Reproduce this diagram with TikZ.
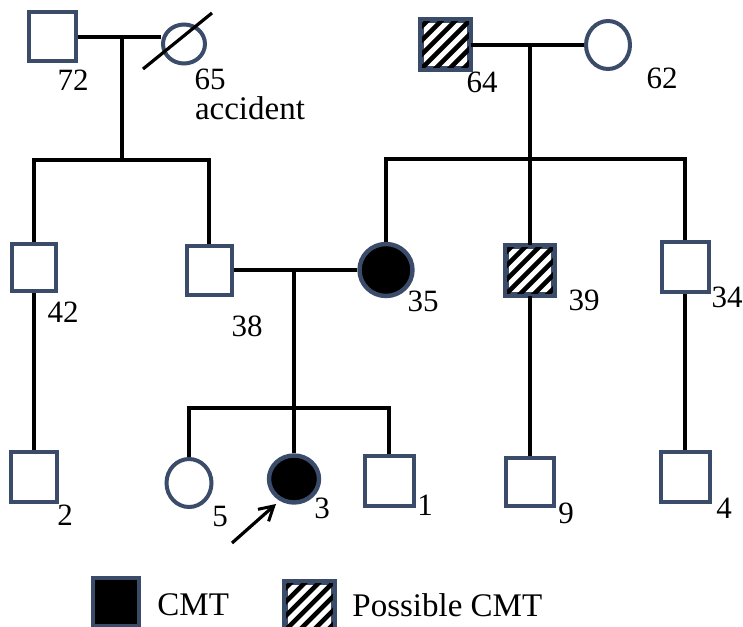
\documentclass[tikz,border=0pt]{standalone}
\usepackage{fontspec}
\setmainfont{Liberation Serif}
\usetikzlibrary{shapes.geometric,arrows.meta}
\definecolor{bord}{RGB}{58,76,105}
\begin{document}
\begin{tikzpicture}[x=0.5pt,y=-0.5pt,
  conn/.style={black,line width=1.6pt},
  sq/.style={rectangle,draw=bord,fill=white,line width=2pt,inner sep=0pt},
  ci/.style={ellipse,draw=bord,fill=white,line width=2pt,inner sep=0pt},
  aff/.style={ellipse,draw=bord,fill=black,line width=2.2pt,inner sep=0pt},
  hatchline/.style={black,line width=2.3pt},
  lab/.style={inner sep=0pt,font=\fontsize{15.5}{18}\selectfont},
  word/.style={inner sep=0pt,font=\fontsize{16.5}{19}\selectfont}]
\useasboundingbox (0,0) rectangle (743,626);
\clip (0,0) rectangle (743,626);
\newcommand\hatchit[1]{%
  \begin{scope}
    \clip (#1.south west) rectangle (#1.north east);
    \foreach \k in {-70,-56,...,70}
      \draw[hatchline] ([xshift=\k*0.5pt-20pt,yshift=-20pt]#1.center) -- ([xshift=\k*0.5pt+20pt,yshift=20pt]#1.center);
  \end{scope}
  \draw[draw=bord,line width=2pt] (#1.south west) rectangle (#1.north east);}
% Generation I
\node[sq,minimum width=23.5pt,minimum height=24.5pt] (g1) at (52,37) {};
\node[ci,minimum width=21pt,minimum height=19.5pt] (g2) at (184,44) {};
\node[sq,minimum width=23.5pt,minimum height=23.5pt] (g3) at (445,45) {};
\hatchit{g3}
\node[ci,minimum width=22pt,minimum height=24pt] (g4) at (608,45) {};
\coordinate (sl1) at (143,69);
\coordinate (sl2) at (212,13);
\draw[conn] (sl1) -- (sl2);
% Generation II
\node[sq,minimum width=22pt,minimum height=23.5pt] (a) at (34,267.5) {};
\node[sq,minimum width=22.5pt,minimum height=24.5pt] (b) at (209,270) {};
\node[aff,minimum width=26.5pt,minimum height=26pt] (c) at (386,270) {};
\node[sq,minimum width=23pt,minimum height=23.5pt] (d) at (530,270) {};
\hatchit{d}
\node[sq,minimum width=23.5pt,minimum height=25pt] (e) at (685,267) {};
% Generation III
\node[sq,minimum width=23pt,minimum height=25pt] (f) at (34,477) {};
\node[ci,minimum width=22.5pt,minimum height=24pt] (h) at (189,483) {};
\node[aff,minimum width=25pt,minimum height=23.5pt] (i) at (294,479) {};
\node[sq,minimum width=24.5pt,minimum height=25pt] (j) at (389,481) {};
\node[sq,minimum width=24pt,minimum height=24pt] (k) at (530,482) {};
\node[sq,minimum width=24.5pt,minimum height=25pt] (l) at (685,477) {};
% connectors
\coordinate (c1) at (122,38);
\coordinate (s1) at (122,160);
\coordinate (c2) at (530,44);
\coordinate (s2) at (530,159);
\coordinate (c3) at (294,269);
\coordinate (s3) at (294,408);
\draw[conn] (g1.east) -- (g1.east -| g2.west);
\draw[conn] (c1) -- (s1);
\draw[conn] (a.north) |- (s1) -| (b.north);
\draw[conn] (g3.east) -- (g3.east -| g4.west);
\draw[conn] (c2) -- (d.north);
\draw[conn] (c.north) |- (s2) -| (e.north);
\draw[conn] (b.east) -- (c.west);
\draw[conn] (c3) -- (i.north);
\draw[conn] (h.north) |- (s3) -| (j.north);
\draw[conn] (a.south) -- (f.north);
\draw[conn] (d.south) -- (k.north);
\draw[conn] (e.south) -- (l.north);
\coordinate (ar) at (232,543);
\coordinate (arh) at (276,504);
\draw[conn,-{Straight Barb[length=7pt,width=8pt,line width=1.5pt]}] (ar) -- (arh);
% labels
\node[lab] (t72) at (73,80) {72};
\node[lab] (t65) at (210,79) {65};
\node[word] (tacc) at (250,108) {accident};
\node[lab] (t64) at (482,82) {64};
\node[lab] (t62) at (662,78) {62};
\node[lab] (t42) at (63,312) {42};
\node[lab] (t38) at (247,326) {38};
\node[lab] (t35) at (423,301) {35};
\node[lab] (t39) at (584,300) {39};
\node[lab] (t34) at (727,297) {34};
\node[lab] (t2) at (65,515) {2};
\node[lab] (t5) at (220,516) {5};
\node[lab] (t3) at (322,508) {3};
\node[lab] (t1) at (425,505) {1};
\node[lab] (t9) at (566,513) {9};
\node[lab] (t4) at (724,508) {4};
% legend
\node[rectangle,draw=bord,fill=black,line width=2.2pt,inner sep=0pt,minimum width=23pt,minimum height=24pt] (lg1) at (116,602) {};
\node[word,anchor=west] (lt1) at (157,605) {CMT};
\node[sq,minimum width=23.5pt,minimum height=23pt] (lg2) at (309.5,606) {};
\hatchit{lg2}
\node[word,anchor=west] (lt2) at (352,605) {Possible CMT};
\end{tikzpicture}
\end{document}
